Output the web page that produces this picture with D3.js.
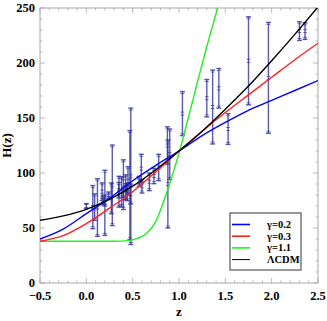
<!DOCTYPE html>
<html>
<head>
<meta charset="utf-8">
<script src="https://cdn.jsdelivr.net/npm/d3@7"></script>
<style>
  body { margin: 0; background: #fff; }
  text { font-family: "Liberation Serif", "DejaVu Serif", serif; font-weight: bold; }
</style>
</head>
<body>
<script>
// curves: [z, H]
const gamma02 = [[-0.5,40],[-0.25,49],[0,63],[0.25,77],[0.5,93],[0.75,107],[1,120],[1.25,134],[1.5,146],[1.75,157],[2,166],[2.25,175],[2.5,184]];
const gamma03 = [[-0.5,38],[-0.25,43],[0,54],[0.25,68],[0.5,83],[0.75,101],[1,120],[1.25,138],[1.5,155],[1.75,171],[2,187],[2.25,203],[2.5,218]];
const gamma11 = [[-0.5,38],[0,38],[0.3,38],[0.45,38.5],[0.55,40.5],[0.65,45],[0.75,56],[0.85,78],[0.95,104],[1,118],[1.1,150],[1.2,183],[1.3,215],[1.4,245],[1.45,260]];
const lcdm = [[-0.5,57],[-0.25,61],[0,67],[0.25,76],[0.5,88],[0.75,103],[1,120],[1.25,138],[1.5,158],[1.75,179],[2,202],[2.25,226],[2.5,251]];

// H(z) data points: z, H, sigma
const zs =   [0, 0.07, 0.09, 0.12, 0.17, 0.179, 0.199, 0.2, 0.24, 0.27, 0.28, 0.35, 0.352, 0.3802, 0.4, 0.4004, 0.4247, 0.43, 0.44, 0.4497, 0.47, 0.4783, 0.48, 0.57, 0.593, 0.6, 0.68, 0.73, 0.781, 0.875, 0.88, 0.9, 1.037, 1.3, 1.363, 1.43, 1.53, 1.75, 1.965, 2.3, 2.36];
const Hs =   [70, 69, 69, 68.6, 83, 75, 75, 72.9, 79.7, 77, 88.8, 84.4, 83, 83, 95, 77, 87.1, 86.5, 82.6, 92.8, 89, 80.9, 97, 92.4, 104, 87.9, 92, 97.3, 105, 125, 90, 117, 154, 168, 160, 177, 140, 202, 186.5, 229, 229];
const errs = [2.2, 19.6, 12, 26.2, 8, 4, 5, 29.6, 3, 14, 36.6, 7, 14, 13.5, 17, 10.2, 11.2, 3.7, 7.8, 12.9, 49.6, 9, 62, 4.5, 13, 6.1, 8, 7, 12, 17, 40, 23, 20, 17, 33.6, 18, 14, 40, 50.4, 8.5, 7.5];

const xTicks = [-0.5, 0, 0.5, 1, 1.5, 2, 2.5];
const yTicks = [0, 50, 100, 150, 200, 250];

const legendNames = ["γ=0.2", "γ=0.3", "γ=1.1", "ΛCDM"];
const legendColors = ["#0000ff", "#ff2020", "#22ee22", "#000000"];

const W = 327, Hgt = 321;
const mL = 40, mR = 318, mT = 8, mB = 283;

const svg = d3.select("body").append("svg")
  .attr("width", W).attr("height", Hgt);

const x = d3.scaleLinear().domain([-0.5, 2.5]).range([mL, mR]);
const y = d3.scaleLinear().domain([0, 250]).range([mB, mT]);

svg.append("clipPath").attr("id", "clip")
  .append("rect").attr("x", mL).attr("y", mT)
  .attr("width", mR - mL).attr("height", mB - mT);

// frame
const frameCol = "#a8a8a8";
svg.append("rect").attr("x", mL).attr("y", mT)
  .attr("width", mR - mL).attr("height", mB - mT)
  .attr("fill", "none").attr("stroke", frameCol).attr("stroke-width", 1);

// ticks, inside the frame on all four sides
const xMinor = d3.range(-0.5, 2.5001, 0.1);
const yMinor = d3.range(0, 250.001, 10);
const tk = svg.append("g").attr("stroke", frameCol).attr("stroke-width", 0.8);
xMinor.forEach(v => {
  const major = xTicks.some(t => Math.abs(t - v) < 1e-6);
  const len = major ? 5 : 2.5;
  tk.append("line").attr("x1", x(v)).attr("x2", x(v)).attr("y1", mB).attr("y2", mB - len);
  tk.append("line").attr("x1", x(v)).attr("x2", x(v)).attr("y1", mT).attr("y2", mT + len);
});
yMinor.forEach(v => {
  const major = yTicks.some(t => Math.abs(t - v) < 1e-6);
  const len = major ? 5 : 2.5;
  tk.append("line").attr("y1", y(v)).attr("y2", y(v)).attr("x1", mL).attr("x2", mL + len);
  tk.append("line").attr("y1", y(v)).attr("y2", y(v)).attr("x1", mR).attr("x2", mR - len);
});

// tick labels
svg.append("g").selectAll("text").data(xTicks).join("text")
  .attr("x", d => x(d)).attr("y", 300)
  .attr("text-anchor", "middle").attr("font-size", 12.5)
  .text(d => d3.format(".1f")(d).replace("-", "\u2212"));
svg.append("g").selectAll("text").data(yTicks).join("text")
  .attr("x", 35).attr("y", d => y(d) + 4)
  .attr("text-anchor", "end").attr("font-size", 12.5)
  .text(d => d);

// axis labels
svg.append("text").attr("x", x(1)).attr("y", 316)
  .attr("text-anchor", "middle").attr("font-size", 13).text("z");
svg.append("text").attr("transform", `translate(11,${y(125)}) rotate(-90)`)
  .attr("text-anchor", "middle").attr("font-size", 13).text("H(z)");

const plot = svg.append("g").attr("clip-path", "url(#clip)");

// error bars
const barCol = "#2f2f9c";
const eb = plot.append("g").attr("stroke", barCol).attr("stroke-opacity", 0.8).attr("stroke-width", 1.4);
zs.forEach((z, i) => {
  const cx = x(z), lo = y(Hs[i] - errs[i]), hi = y(Hs[i] + errs[i]), cy = y(Hs[i]);
  eb.append("line").attr("x1", cx).attr("x2", cx).attr("y1", lo).attr("y2", hi);
  [lo, hi].forEach(v => {
    eb.append("line").attr("x1", cx - 2.5).attr("x2", cx + 2.5).attr("y1", v).attr("y2", v);
  });
  [hi + 2, lo - 2].forEach(v => {
    if (Math.abs(lo - hi) > 6)
      eb.append("line").attr("x1", cx - 2).attr("x2", cx + 2).attr("y1", v).attr("y2", v).attr("stroke-width", 0.8);
  });
  eb.append("line").attr("x1", cx - 1.8).attr("x2", cx + 1.8).attr("y1", cy - 1.5).attr("y2", cy - 1.5).attr("stroke-width", 0.9);
  eb.append("line").attr("x1", cx - 1.8).attr("x2", cx + 1.8).attr("y1", cy + 1.5).attr("y2", cy + 1.5).attr("stroke-width", 0.9);
});

// model curves
const line = d3.line().x(d => x(d[0])).y(d => y(d[1])).curve(d3.curveMonotoneX);
[[gamma11, legendColors[2]], [gamma03, legendColors[1]], [gamma02, legendColors[0]], [lcdm, legendColors[3]]]
  .forEach(([data, col]) => {
    plot.append("path").datum(data).attr("d", line)
      .attr("fill", "none").attr("stroke", col).attr("stroke-width", 1.4);
  });

// legend
const lg = svg.append("g");
lg.append("rect").attr("x", 230).attr("y", 213).attr("width", 71).attr("height", 57)
  .attr("fill", "#fff").attr("stroke", "#555").attr("stroke-width", 1.2);
legendNames.forEach((name, i) => {
  const ly = 224.5 + i * 11.7;
  lg.append("line").attr("x1", 232).attr("x2", 250).attr("y1", ly).attr("y2", ly)
    .attr("stroke", legendColors[i]).attr("stroke-width", i === 3 ? 1 : 1.6);
  lg.append("text").attr("x", 267).attr("y", ly + 3.5).attr("font-size", 10.5).text(name);
});
</script>
</body>
</html>
